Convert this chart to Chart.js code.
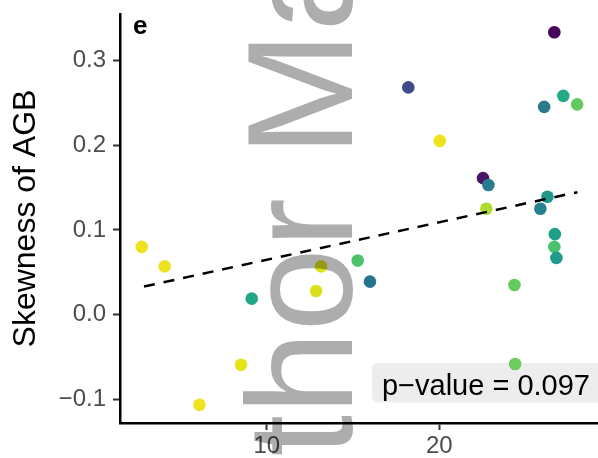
<!DOCTYPE html>
<html>
<head>
<meta charset="utf-8">
<script src="https://cdn.jsdelivr.net/npm/chart.js@4.4.1/dist/chart.umd.min.js"></script>
<style>
  html, body { margin: 0; padding: 0; background: #fff; }
  canvas { display: block; }
</style>
</head>
<body>
<canvas id="skewChart" width="598" height="458"></canvas>
<script>
'use strict';

// x values of each site, and the skewness of AGB
let siteX = [2.76, 4.09, 6.10, 8.51, 9.13, 12.86, 13.15, 15.27, 15.98, 18.20,
             20.02, 22.53, 22.84, 22.72, 24.35, 24.39, 26.07, 26.66, 27.18, 27.98,
             26.26, 25.85, 26.69, 26.66, 26.78];
let skewAGB = [0.080, 0.057, -0.106, -0.059, 0.019, 0.028, 0.057, 0.064, 0.039, 0.268,
               0.205, 0.161, 0.153, 0.125, 0.035, -0.058, 0.245, 0.333, 0.258, 0.248,
               0.139, 0.125, 0.095, 0.080, 0.067];

// viridis colour of every point
let pointColors = ['#EFE31F', '#EDE21F', '#EEE41D', '#E5E419', '#21A685', '#DCE01C', '#DDE318', '#4CC26C', '#26748E', '#3E4C8A',
                   '#EEE31A', '#471466', '#2B7A8E', '#ADDC30', '#63CB5F', '#6CCD5A', '#2C7A8E', '#450559', '#23A983', '#62CB5F',
                   '#1F9A8A', '#26818E', '#1FA187', '#4AC26D', '#1E9B8A'];

// fitted trend line end points
let fitX = [2.89, 28.0];
let fitY = [0.0333, 0.1445];

let xTicks = [10, 20];
let yTicks = [-0.1, 0, 0.1, 0.2, 0.3];

let pValueText = 'p\u2212value = 0.097';
let panelLetter = 'e';
let watermark = 'Author Manuscript';

let font = '"Liberation Sans", Arial, Helvetica, sans-serif';

let scatterPts = [];
for (let i = 0; i < siteX.length; i++) {
    scatterPts.push({ x: siteX[i], y: skewAGB[i] });
}
let fitPts = [];
for (let i = 0; i < fitX.length; i++) {
    fitPts.push({ x: fitX[i], y: fitY[i] });
}

// white page, p-value box, panel letter and the grey watermark on top
let decorations = {
    id: 'decorations',
    beforeDraw(chart) {
        let c = chart.ctx;
        c.save();
        c.fillStyle = '#fff';
        c.fillRect(0, 0, chart.width, chart.height);
        c.restore();
    },
    beforeDatasetsDraw(chart) {
        let c = chart.ctx;
        let area = chart.chartArea;
        c.save();
        c.fillStyle = '#EDEDED';
        c.beginPath();
        c.roundRect(372, area.bottom - 60, area.right - 372 + 6, 39.5, 5);
        c.fill();
        c.fillStyle = '#000';
        c.font = '29px ' + font;
        c.textAlign = 'right';
        c.textBaseline = 'alphabetic';
        c.fillText(pValueText, area.right - 8, area.bottom - 28);
        c.restore();
    },
    afterDraw(chart) {
        let c = chart.ctx;
        c.save();
        c.fillStyle = '#000';
        c.font = 'bold 26px ' + font;
        c.textAlign = 'left';
        c.textBaseline = 'alphabetic';
        c.fillText(panelLetter, 133, 34);

        c.globalCompositeOperation = 'multiply';
        c.fillStyle = '#ADADAD';
        c.font = '150px ' + font;
        c.translate(352, 640);
        c.rotate(-Math.PI / 2);
        c.fillText(watermark, 0, 0);
        c.restore();
    }
};

let ctx = document.getElementById('skewChart').getContext('2d');
let chart = new Chart(ctx, {
    type: 'scatter',
    data: {
        datasets: [{
            type: 'line',
            data: fitPts,
            borderColor: '#000',
            borderWidth: 2.5,
            borderDash: [11, 9],
            pointRadius: 0,
            fill: false,
            order: 0
        }, {
            data: scatterPts,
            pointBackgroundColor: pointColors,
            pointBorderWidth: 0,
            pointRadius: 6.3,
            order: 1
        }]
    },
    options: {
        responsive: false,
        animation: false,
        layout: { autoPadding: false, padding: { top: 14, right: 0, left: 0, bottom: 0 } },
        plugins: { legend: { display: false }, tooltip: { enabled: false } },
        scales: {
            x: {
                type: 'linear',
                min: 1.5,
                max: 29.19,
                afterBuildTicks(scale) { scale.ticks = xTicks.map(v => ({ value: v })); },
                afterFit(scale) {
                    scale.height = 35;
                    scale.paddingLeft = 0;
                    scale.paddingRight = 0;
                },
                border: { display: true, color: '#000', width: 2.5 },
                grid: { drawOnChartArea: false, drawTicks: true, tickLength: 7, tickWidth: 2, tickColor: '#333' },
                ticks: { color: '#4D4D4D', font: { family: font, size: 24 }, padding: 2, maxRotation: 0 }
            },
            y: {
                type: 'linear',
                min: -0.1276,
                max: 0.3545,
                afterBuildTicks(scale) { scale.ticks = yTicks.map(v => ({ value: v })); },
                afterFit(scale) {
                    scale.width = 120;
                    scale.paddingTop = 0;
                    scale.paddingBottom = 0;
                },
                border: { display: true, color: '#000', width: 2.5 },
                grid: { drawOnChartArea: false, drawTicks: true, tickLength: 7, tickWidth: 2, tickColor: '#333' },
                ticks: {
                    color: '#4D4D4D',
                    font: { family: font, size: 24 },
                    padding: 7,
                    callback: v => (v < 0 ? '\u2212' : '') + Math.abs(v).toFixed(1)
                },
                title: {
                    display: true,
                    text: 'Skewness of AGB',
                    color: '#000',
                    font: { family: font, size: 32 },
                    padding: { top: 7, bottom: 0 }
                }
            }
        }
    },
    plugins: [decorations]
});
</script>
</body>
</html>
